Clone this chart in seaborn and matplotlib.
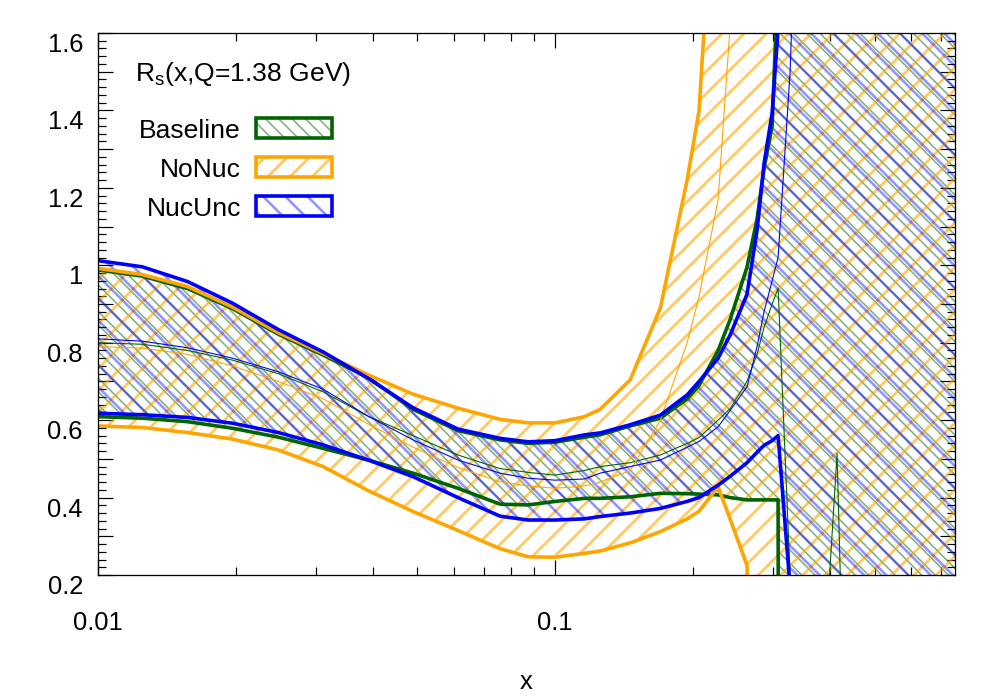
import numpy as np
import pandas as pd
import matplotlib
matplotlib.use('Agg')
import matplotlib.pyplot as plt
import seaborn as sns
from matplotlib.ticker import FixedLocator, FuncFormatter, NullFormatter
from matplotlib.patches import Rectangle

# ---------------- data ----------------
x = [0.01, 0.0125, 0.0157, 0.0197, 0.0248, 0.0311, 0.039, 0.0489, 0.0613, 0.0758,
     0.0873, 0.1, 0.116, 0.1255, 0.146, 0.17, 0.1945, 0.2066, 0.2274, 0.2416,
     0.263, 0.2767, 0.2866, 0.2985, 0.3076, 0.3268, 0.3614, 0.414, 0.442, 0.75]

base_up = [0.988, 0.972, 0.940, 0.888, 0.822, 0.768, 0.710, 0.628, 0.573, 0.549,
           0.540, 0.543, 0.556, 0.562, 0.585, 0.605, 0.655, 0.690, 0.780, 0.860,
           0.995, 1.120, 1.250, 1.360, 1.750, 8.0, 8.0, 8.0, 8.0, 8.0]
base_mid = [0.800, 0.796, 0.780, 0.755, 0.720, 0.673, 0.610, 0.560, 0.510, 0.475,
            0.465, 0.458, 0.470, 0.480, 0.490, 0.510, 0.540, 0.555, 0.600, 0.630,
            0.700, 0.770, 0.840, 0.900, 0.940, 0.200, -0.620, 0.514, -0.750, -1.0]
base_lo = [0.609, 0.605, 0.596, 0.579, 0.556, 0.527, 0.497, 0.463, 0.424, 0.383,
           0.381, 0.390, 0.398, 0.398, 0.402, 0.411, 0.410, 0.409, 0.407, 0.400,
           0.394, 0.394, 0.394, 0.394, 0.394, -20.0, -20.0, -20.0, -20.0, -20.0]

nonuc_up = [0.992, 0.976, 0.945, 0.892, 0.826, 0.772, 0.717, 0.667, 0.631, 0.602,
            0.593, 0.593, 0.609, 0.628, 0.704, 0.890, 1.220, 1.400, 2.200, 3.000,
            8.0, 8.0, 8.0, 8.0, 8.0, 8.0, 8.0, 8.0, 8.0, 8.0]
nonuc_mid = [0.790, 0.786, 0.770, 0.740, 0.700, 0.655, 0.590, 0.530, 0.478, 0.441,
             0.430, 0.424, 0.430, 0.440, 0.470, 0.600, 0.800, 0.920, 1.170, 1.620,
             2.800, 8.0, 8.0, 8.0, 8.0, 8.0, 8.0, 8.0, 8.0, 8.0]
nonuc_lo = [0.585, 0.581, 0.568, 0.551, 0.523, 0.480, 0.418, 0.364, 0.315, 0.268,
            0.247, 0.246, 0.256, 0.262, 0.283, 0.312, 0.345, 0.365, 0.428, 0.344,
            0.225, -1.0, -1.0, -1.0, -1.0, -1.0, -1.0, -1.0, -1.0, -1.0]

nuc_up = [1.012, 0.996, 0.958, 0.902, 0.834, 0.776, 0.708, 0.632, 0.577, 0.553,
          0.544, 0.547, 0.562, 0.567, 0.588, 0.613, 0.665, 0.700, 0.760, 0.820,
          0.925, 1.090, 1.263, 1.393, 1.610, 8.0, 8.0, 8.0, 8.0, 8.0]
nuc_mid = [0.810, 0.804, 0.787, 0.760, 0.725, 0.680, 0.610, 0.549, 0.497, 0.463,
           0.450, 0.445, 0.448, 0.463, 0.480, 0.497, 0.530, 0.545, 0.583, 0.625,
           0.686, 0.790, 0.880, 0.960, 1.020, 1.500, 3.0, 8.0, 8.0, 8.0]
nuc_lo = [0.618, 0.614, 0.607, 0.592, 0.568, 0.536, 0.497, 0.454, 0.400, 0.352,
          0.342, 0.342, 0.345, 0.351, 0.360, 0.372, 0.390, 0.400, 0.432, 0.455,
          0.490, 0.517, 0.535, 0.547, 0.560, 0.168, -0.5, -1.0, -1.0, -1.0]

labels = ['Baseline', 'NoNuc', 'NucUnc']
title_text = r'R$_\mathregular{s}$(x,Q=1.38 GeV)'
x_ticks_major = [0.01, 0.1]
x_ticks_minor = [0.02, 0.03, 0.04, 0.05, 0.06, 0.07, 0.08, 0.09, 0.2, 0.3, 0.4, 0.5, 0.6, 0.7]

# ---------------- style ----------------
sns.set_theme(style='ticks')
plt.rcParams['font.family'] = ['Liberation Sans', 'DejaVu Sans']
plt.rcParams['mathtext.fontset'] = 'custom'
plt.rcParams['mathtext.rm'] = 'Liberation Sans'
plt.rcParams['mathtext.it'] = 'Liberation Sans:italic'

DPI = 200
def P(p):
    """pixels -> points"""
    return p * 72.0 / DPI

fig = plt.figure(figsize=(5, 3.5), dpi=DPI)
fig.patch.set_facecolor('white')
ax = fig.add_axes([0.098, 1 - 575 / 700, 0.857, 542 / 700])
ax.set_facecolor('white')

line_cols = ['#006400', '#ffa500', '#0000ff']
hatch_cols = [(0.0, 0.39, 0.0, 0.5), (1.0, 0.65, 0.0, 0.6), (0.0, 0.0, 1.0, 0.42)]
hatches = ['\\' * 5, '///', '\\' * 3]
hatch_w = [1.6, 2.8, 2.6]
series = [(base_lo, base_mid, base_up), (nonuc_lo, nonuc_mid, nonuc_up), (nuc_lo, nuc_mid, nuc_up)]

for i, (lo, mid, up) in enumerate(series):
    with plt.rc_context({'hatch.linewidth': P(hatch_w[i])}):
        coll = ax.fill_between(x, lo, up, facecolor='none', edgecolor=hatch_cols[i],
                               linewidth=0, hatch=hatches[i], zorder=1 + 0.1 * i)
        if hasattr(coll, 'set_hatch_linewidth'):
            coll.set_hatch_linewidth(P(hatch_w[i]))

for i, (lo, mid, up) in enumerate(series):
    for yy, lw in ((lo, 3.6), (up, 3.6), (mid, 1.1)):
        sns.lineplot(x=x, y=yy, ax=ax, color=line_cols[i], linewidth=P(lw),
                     estimator=None, sort=False, legend=False, zorder=3 + 0.1 * i)

ax.set_xscale('log')
ax.set_xlim(0.01, 0.75)
ax.set_ylim(0.2, 1.6)

ax.xaxis.set_major_locator(FixedLocator(x_ticks_major))
ax.xaxis.set_minor_locator(FixedLocator(x_ticks_minor))
ax.xaxis.set_major_formatter(FuncFormatter(lambda v, p: '%g' % v))
ax.xaxis.set_minor_formatter(NullFormatter())

ymaj = np.round(np.arange(0.2, 1.6001, 0.1), 2)
ymin = np.round(np.arange(0.2, 1.6001, 0.02), 2)
ax.yaxis.set_major_locator(FixedLocator(ymaj))
ax.yaxis.set_minor_locator(FixedLocator(ymin))
ax.yaxis.set_major_formatter(FuncFormatter(
    lambda v, p: ('%g' % v) if abs(round(v / 0.2) * 0.2 - v) < 1e-6 else ''))

fs = P(25.5)
ax.tick_params(which='both', direction='in', top=True, right=True,
               width=P(1.2), color='black', labelsize=fs, labelcolor='black')
ax.tick_params(which='major', length=P(15))
ax.tick_params(which='minor', length=P(8))
ax.tick_params(axis='x', which='major', pad=P(36))
ax.tick_params(axis='y', which='major', pad=P(15))
for t in ax.get_yticklabels():
    t.set_verticalalignment('top')

for s in ax.spines.values():
    s.set_linewidth(P(1.3))
    s.set_color('black')
    s.set_zorder(10)

ax.set_xlabel('x', fontsize=fs, color='black')
ax.xaxis.set_label_coords(0.5, (575 - 682) / 542)
ax.xaxis.label.set_verticalalignment('center')
ax.set_ylabel('')

# ---------------- key ----------------
def axc(X, Y):
    return ((X - 98) / 857, (575 - Y) / 542)

ax.text(*axc(135, 74), title_text, transform=ax.transAxes, ha='left', va='center',
        fontsize=P(26.5), color='black', zorder=20)

rows = [128, 167, 206]
for i, lab in enumerate(labels):
    tx, ty = axc(241, rows[i] + 3)
    ax.text(tx, ty, lab, transform=ax.transAxes, ha='right', va='center',
            fontsize=P(26.5), color='black', zorder=20)
    bx, by = axc(256, rows[i] + 10)
    bw = 76 / 857
    bh = 20 / 542
    with plt.rc_context({'hatch.linewidth': P(hatch_w[i])}):
        r1 = Rectangle((bx, by), bw, bh, transform=ax.transAxes, facecolor='white',
                       edgecolor=hatch_cols[i], linewidth=0, hatch=hatches[i], zorder=20)
        if hasattr(r1, 'set_hatch_linewidth'):
            r1.set_hatch_linewidth(P(hatch_w[i]))
        ax.add_patch(r1)
    r2 = Rectangle((bx, by), bw, bh, transform=ax.transAxes, facecolor='none',
                   edgecolor=line_cols[i], linewidth=P(3.6), zorder=21)
    ax.add_patch(r2)

fig.savefig('out.png', dpi=DPI, facecolor='white')
